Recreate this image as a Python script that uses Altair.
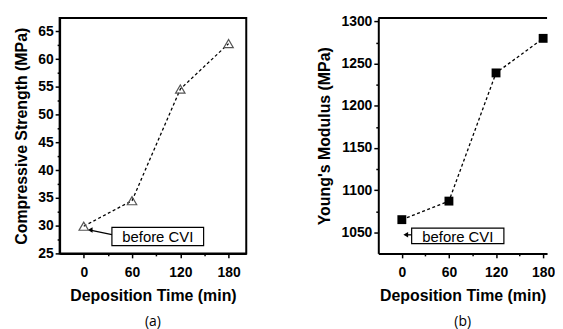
import altair as alt
import pandas as pd

# ---- data ----
time_min = [0, 60, 120, 180]
strength = [29.9, 34.5, 54.6, 62.8]          # Compressive Strength (MPa)
modulus = [1065, 1087, 1239, 1280]           # Young's Modulus (MPa)

x_ticks = [0, 30, 60, 90, 120, 150, 180]
s_ticks = [25, 27.5, 30, 32.5, 35, 37.5, 40, 42.5, 45, 47.5, 50, 52.5, 55, 57.5, 60, 62.5, 65]
m_ticks = [1050, 1075, 1100, 1125, 1150, 1175, 1200, 1225, 1250, 1275, 1300]

note_text = "before CVI"
# annotation placement, in data units: box x1, x2, y1, y2 ; arrow from (x, y) to (x2, y2)
a_box = [35, 149, 26.4, 29.7]
a_arrow = [35, 28.4, 8, 29.2]
b_box = [12.5, 130, 1036.5, 1055]
b_arrow = [12.5, 1047, 5, 1047]

FONT = "Liberation Sans"
H = 237


def axis_common(values, title, major_test, fmt=None, **kw):
    params = dict(values=values, title=title, grid=False,
                  tickSize={"condition": {"test": major_test, "value": 4.5}, "value": 2.5},
                  tickWidth=1.5, domainWidth=2, tickColor="black", domainColor="black",
                  labelExpr=f"({major_test}) ? datum.label : ''",
                  labelFont=FONT, labelFontSize=14, labelFontWeight="bold", labelColor="black",
                  titleFont=FONT, titleFontSize=16, titleFontWeight="bold", titleColor="black")
    if fmt:
        params["format"] = fmt
    params.update(kw)
    return alt.Axis(**params)


def panel(yvals, ytitle, ydom, xdom, yvalues, ytest, yfmt, shape, filled, box, arrow, caption,
          full_frame, width):
    df = pd.DataFrame({"t": time_min, "v": yvals})
    xs = alt.Scale(domain=xdom, nice=False, zero=False)
    ys = alt.Scale(domain=ydom, nice=False, zero=False)
    ax = axis_common(x_ticks, "Deposition Time (min)", "datum.value % 60 == 0",
                     labelPadding=8, titlePadding=8, orient="bottom")
    ay = axis_common(yvalues, ytitle, ytest, yfmt, labelPadding=2, titlePadding=8, orient="left")

    def X(f):
        return alt.X(f, scale=xs, axis=ax)

    def Y(f):
        return alt.Y(f, scale=ys, axis=ay)

    # plot-area frame, drawn from the scale domain ends
    fdf = pd.DataFrame({"fx1": [xdom[0]], "fx2": [xdom[1]], "fy1": [ydom[0]], "fy2": [ydom[1]]})
    if full_frame:
        frame = alt.Chart(fdf).mark_rect(fill="transparent", stroke="black", strokeWidth=2).encode(
            x=X("fx1:Q"), x2="fx2", y=Y("fy1:Q"), y2="fy2")
    else:
        frame = alt.Chart(fdf).mark_rule(color="black", strokeWidth=2).encode(
            x=X("fx1:Q"), x2="fx2", y=Y("fy2:Q"))

    line = alt.Chart(df).mark_line(color="black", strokeDash=[3, 2.5], strokeWidth=1.3).encode(
        x=X("t:Q"), y=Y("v:Q"))
    pts = alt.Chart(df).mark_point(shape=shape, filled=filled, size=90 if not filled else 80,
                                   color="#555555" if not filled else "black",
                                   strokeWidth=1.2, opacity=1).encode(x=X("t:Q"), y=Y("v:Q"))
    bdf = pd.DataFrame({"x1": [box[0]], "x2": [box[1]], "y1": [box[2]], "y2": [box[3]],
                        "xc": [(box[0] + box[1]) / 2], "yc": [(box[2] + box[3]) / 2],
                        "label": [note_text]})
    rect = alt.Chart(bdf).mark_rect(fill="white", stroke="black", strokeWidth=1.2).encode(
        x=X("x1:Q"), x2="x2", y=Y("y1:Q"), y2="y2")
    txt = alt.Chart(bdf).mark_text(font=FONT, fontSize=15, color="black", baseline="middle",
                                   align="center", dy=1).encode(
        x=X("xc:Q"), y=Y("yc:Q"), text="label:N")
    adf = pd.DataFrame({"x1": [arrow[0]], "y1": [arrow[1]], "x2": [arrow[2]], "y2": [arrow[3]]})
    arr = alt.Chart(adf).mark_rule(color="black", strokeWidth=1.3).encode(
        x=X("x1:Q"), y=Y("y1:Q"), x2="x2", y2="y2")
    head = alt.Chart(adf).mark_point(shape="triangle-left", filled=True, color="black", size=30,
                                     opacity=1).encode(x=X("x2:Q"), y=Y("y2:Q"))
    layers = [line, rect, txt, arr, head, pts, frame]
    return alt.layer(*layers).properties(
        width=width, height=H,
        title=alt.TitleParams(caption, orient="bottom", fontSize=14, fontWeight="normal",
                              font="Open Sans", offset=12, color="black"))


left = panel(strength, "Compressive Strength (MPa)", [25, 67.4], [-30, 202], s_ticks,
             "datum.value % 5 == 0", "d", "triangle-up", False, a_box, a_arrow, "(a)", True, 188)
right = panel(modulus, "Young's Modulus (MPa)", [1025, 1304], [-30, 185], m_ticks,
              "datum.value % 50 == 0", "d", "square", True, b_box, b_arrow, "(b)", False, 170)

chart = alt.hconcat(left, right, spacing=70).properties(
    padding={"left": 5, "top": 5, "right": 0, "bottom": 0}
).configure_view(stroke=None)

chart.save("out.html", embed_options={"renderer": "svg", "actions": False})
